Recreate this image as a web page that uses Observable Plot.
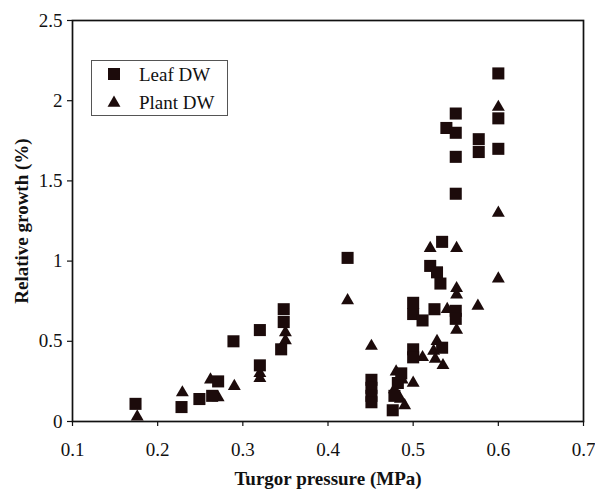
<!DOCTYPE html>
<html>
<head>
<meta charset="utf-8">
<script src="https://cdn.jsdelivr.net/npm/d3@7"></script>
<script src="https://cdn.jsdelivr.net/npm/@observablehq/plot@0.6"></script>
<style>
  body { margin: 0; background: #fff; }
  #chart { width: 595px; height: 490px; }
</style>
</head>
<body>
<div id="chart"></div>
<script>
// Relative growth vs. turgor pressure, leaf and whole-plant dry weight
const seriesNames = ["Leaf DW", "Plant DW"];

const leafX = [0.174, 0.228, 0.249, 0.264, 0.271, 0.289, 0.320, 0.320, 0.345, 0.348,
               0.348, 0.423, 0.451, 0.451, 0.451, 0.451, 0.476, 0.478, 0.482, 0.486,
               0.500, 0.500, 0.500, 0.500, 0.511, 0.520, 0.528, 0.532, 0.525, 0.534,
               0.534, 0.539, 0.550, 0.550, 0.550, 0.550, 0.550, 0.550, 0.577, 0.577,
               0.600, 0.600, 0.600];
const leafY = [0.11, 0.09, 0.14, 0.16, 0.25, 0.50, 0.57, 0.35, 0.45, 0.70,
               0.62, 1.02, 0.26, 0.21, 0.16, 0.12, 0.07, 0.16, 0.24, 0.30,
               0.74, 0.67, 0.45, 0.40, 0.63, 0.97, 0.93, 0.86, 0.70, 0.46,
               1.12, 1.83, 1.92, 1.80, 1.65, 1.42, 0.69, 0.64, 1.76, 1.68,
               2.17, 1.89, 1.70];

const plantX = [0.176, 0.229, 0.262, 0.271, 0.290, 0.320, 0.320, 0.350, 0.350, 0.423,
                0.451, 0.480, 0.478, 0.485, 0.490, 0.487, 0.500, 0.511, 0.520, 0.528,
                0.524, 0.526, 0.535, 0.540, 0.551, 0.551, 0.551, 0.551, 0.576, 0.600,
                0.600, 0.600];
const plantY = [0.03, 0.18, 0.26, 0.15, 0.22, 0.30, 0.27, 0.555, 0.505, 0.755,
                0.47, 0.31, 0.20, 0.14, 0.10, 0.26, 0.24, 0.40, 1.08, 0.50,
                0.44, 0.39, 0.35, 0.70, 1.08, 0.83, 0.79, 0.57, 0.72, 1.96,
                1.30, 0.89];

const xTicks = [0.1, 0.2, 0.3, 0.4, 0.5, 0.6, 0.7];
const yTicks = [0, 0.5, 1, 1.5, 2, 2.5];
const xTitle = "Turgor pressure (MPa)";
const yTitle = "Relative growth (%)";

const leafRows = leafX.map((x, i) => ({x, y: leafY[i], series: seriesNames[0]}));
const plantRows = plantX.map((x, i) => ({x, y: plantY[i], series: seriesNames[1]}));

const ink = "#1c0b0b";
const serif = "'Liberation Serif', 'Times New Roman', serif";
const fs = 19;
const squareR = 6.8;   // ~12px square
const triR = 4.8;      // ~12px triangle

const chart = Plot.plot({
  width: 595,
  height: 490,
  marginLeft: 72,
  marginRight: 12,
  marginTop: 20,
  marginBottom: 69,
  style: {fontFamily: serif, fontSize: `${fs}px`, color: "#111", background: "#fff"},
  x: {domain: [0.1, 0.7]},
  y: {domain: [0, 2.5]},
  marks: [
    Plot.axisX({ticks: xTicks, tickSize: 5, tickPadding: 16, tickFormat: d => `${d}`,
                label: null, fontSize: fs, strokeWidth: 1.2}),
    Plot.axisY({ticks: yTicks, tickSize: 5, tickPadding: 5, tickFormat: d => `${d}`,
                label: null, fontSize: fs, strokeWidth: 1.2}),
    Plot.frame({stroke: "#111", strokeWidth: 1.7}),
    Plot.dot(plantRows, {x: "x", y: "y", symbol: "triangle", r: triR, fill: ink, stroke: "none"}),
    Plot.dot(leafRows, {x: "x", y: "y", symbol: "square", r: squareR, fill: ink, stroke: "none"}),
    Plot.text([xTitle], {text: d => d, frameAnchor: "bottom", dy: 57, fontWeight: "bold",
                         textAnchor: "middle", lineAnchor: "middle", fontSize: fs, fill: "#111"}),
    Plot.text([yTitle], {text: d => d, frameAnchor: "left", dx: -51, rotate: -90,
                         textAnchor: "middle", lineAnchor: "middle",
                         fontWeight: "bold", fontSize: fs, fill: "#111"})
  ]
});

// Legend box in the upper-left corner of the plot area
const svg = d3.select(chart);
const legend = svg.append("g")
  .attr("font-family", serif).attr("font-size", fs).attr("fill", "#111")
  .attr("text-anchor", "start");
legend.append("rect")
  .attr("x", 91.5).attr("y", 60.5).attr("width", 136).attr("height", 55)
  .attr("fill", "#fff").attr("stroke", "#555").attr("stroke-width", 1);
const entries = [
  {name: seriesNames[0], symbol: d3.symbolSquare, size: Math.PI * squareR * squareR, cy: 74, base: 81},
  {name: seriesNames[1], symbol: d3.symbolTriangle, size: Math.PI * triR * triR, cy: 103, base: 109}
];
for (const e of entries) {
  legend.append("path")
    .attr("d", d3.symbol(e.symbol, e.size)())
    .attr("transform", `translate(114,${e.cy})`)
    .attr("fill", ink);
  legend.append("text").attr("x", 139).attr("y", e.base).text(e.name);
}

document.getElementById("chart").appendChild(chart);
</script>
</body>
</html>
